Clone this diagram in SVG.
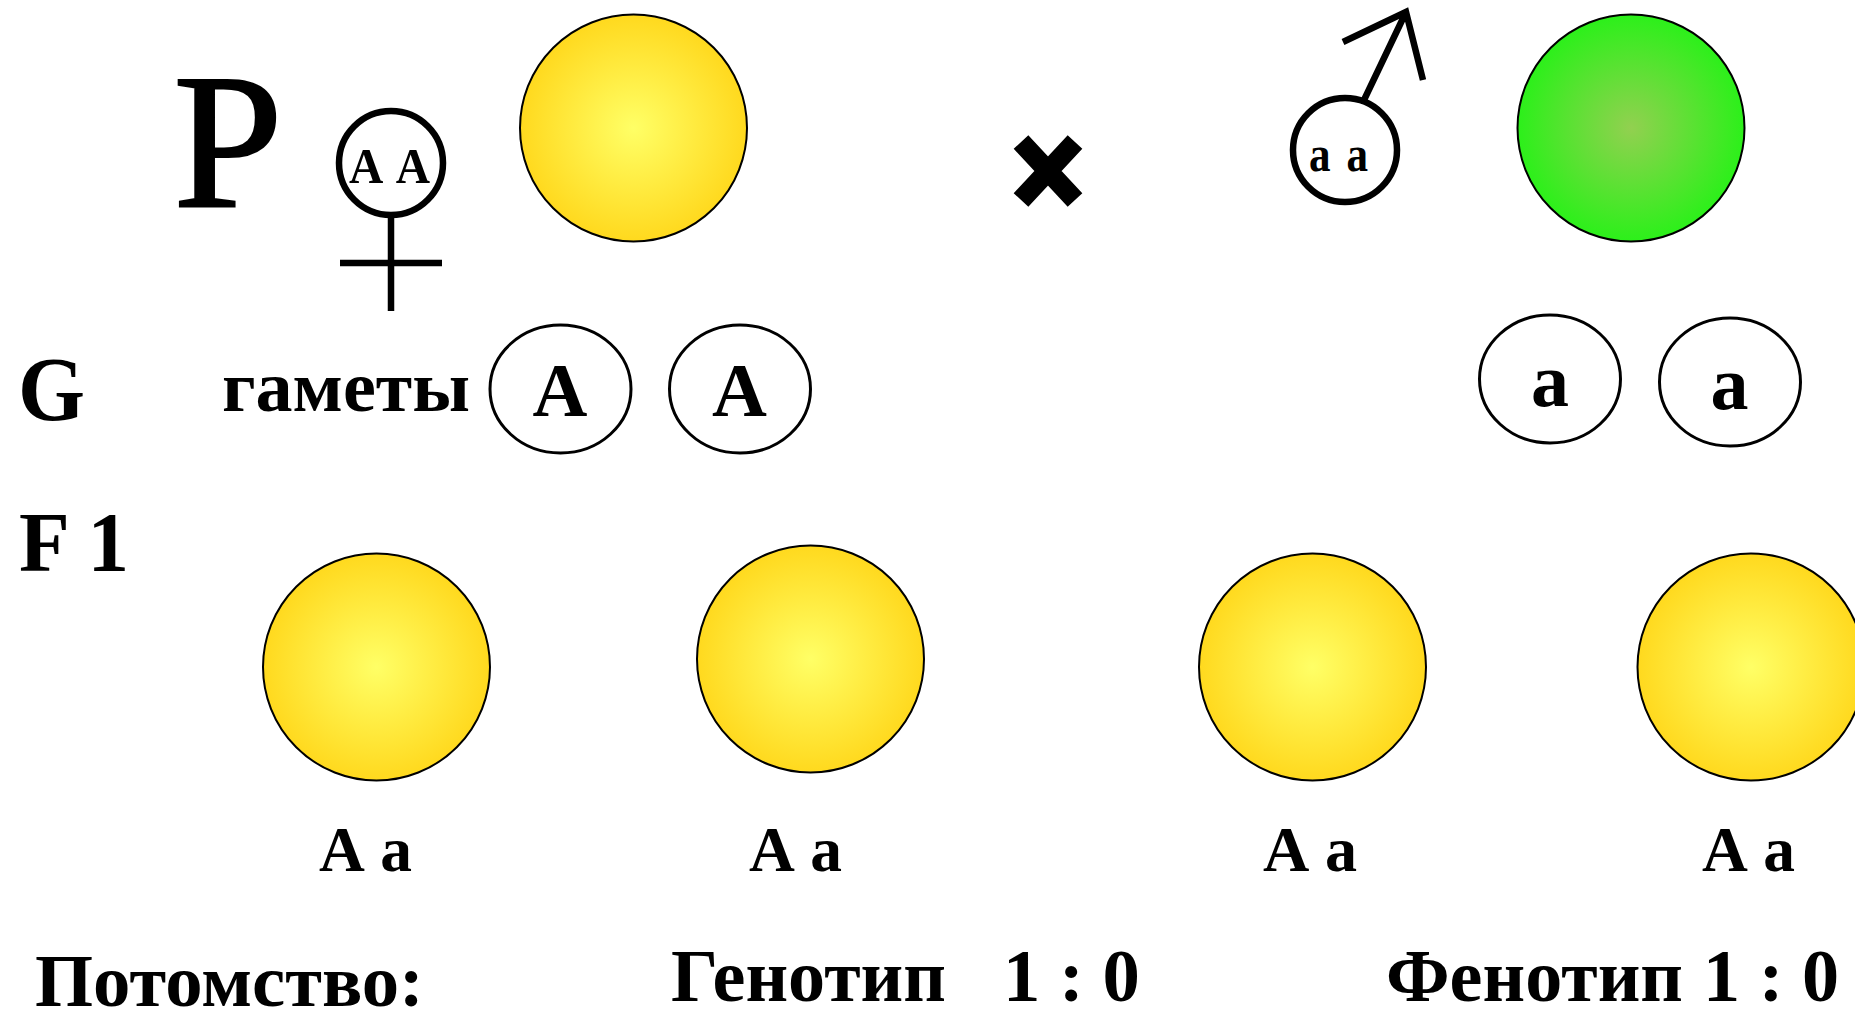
<svg xmlns="http://www.w3.org/2000/svg" width="1855" height="1010" viewBox="0 0 1855 1010">
<style>
text{font-family:"Liberation Serif","Times New Roman",serif;font-weight:700;fill:#000}
.pea{stroke:#000;stroke-width:2}
.y{fill:url(#yel)}
.gam{fill:#fff;stroke:#000;stroke-width:3}
.sign{fill:none;stroke:#000;stroke-width:6.500}
.g{font-size:76px;text-anchor:middle}
.s{font-size:50px;word-spacing:6px}
.l{font-size:64px;word-spacing:3px}
.b{font-size:75px}
</style>
<defs>
<radialGradient id="yel"><stop offset="0" stop-color="#ffff66"/><stop offset="1" stop-color="#ffd91e"/></radialGradient>
<radialGradient id="grn"><stop offset="0" stop-color="#92d050"/><stop offset="1" stop-color="#2cf01a"/></radialGradient>
</defs>
<rect width="1855" height="1010" fill="#fff"/>
<g id="label-P"><text x="173" y="207" font-size="192" style="font-weight:400;stroke:#000;stroke-width:2" textLength="110" lengthAdjust="spacingAndGlyphs">P</text></g>
<g id="female">
<ellipse class="sign" cx="391" cy="163" rx="52" ry="52"/>
<path class="sign" d="M391 215V311M340 263H442"/>
<text class="s" x="349" y="183" textLength="81" lengthAdjust="spacingAndGlyphs">A A</text>
</g>
<g id="parent-yellow"><ellipse class="pea y" cx="633.500" cy="128" rx="113.500" ry="113.500"/></g>
<g id="cross"><path d="M1021 142L1075 200M1075 142L1021 200" fill="none" stroke="#000" stroke-width="20"/></g>
<g id="male">
<ellipse class="sign" cx="1345" cy="150" rx="52" ry="52"/>
<path class="sign" d="M1364 100L1406 12M1343 42L1406 12L1423 80"/>
<text class="s" x="1309" y="171" textLength="59" lengthAdjust="spacingAndGlyphs">a a</text>
</g>
<g id="parent-green"><ellipse class="pea" fill="url(#grn)" cx="1631" cy="128" rx="113.500" ry="113.500"/></g>
<g id="label-G"><text x="18" y="420" font-size="90" textLength="67" lengthAdjust="spacingAndGlyphs">G</text></g>
<g id="label-gametes"><text x="222" y="411" font-size="72" textLength="248" lengthAdjust="spacingAndGlyphs">гаметы</text></g>
<g id="gamete-A1"><ellipse class="gam" cx="560.500" cy="389" rx="70.500" ry="64"/><text class="g" x="560" y="416">A</text></g>
<g id="gamete-A2"><ellipse class="gam" cx="740" cy="389" rx="70.500" ry="64"/><text class="g" x="739.500" y="416">A</text></g>
<g id="gamete-a1"><ellipse class="gam" cx="1550" cy="379" rx="70.500" ry="64"/><text class="g" x="1550" y="406">a</text></g>
<g id="gamete-a2"><ellipse class="gam" cx="1730" cy="382" rx="70.500" ry="64"/><text class="g" x="1729.500" y="409">a</text></g>
<g id="label-F1"><text x="19" y="571" font-size="85" textLength="110" lengthAdjust="spacingAndGlyphs">F 1</text></g>
<g id="f1-1"><ellipse class="pea y" cx="376.500" cy="667" rx="113.500" ry="113.500"/><text class="l" x="319" y="871" textLength="93" lengthAdjust="spacingAndGlyphs">A a</text></g>
<g id="f1-2"><ellipse class="pea y" cx="810.500" cy="659" rx="113.500" ry="113.500"/><text class="l" x="749" y="871" textLength="93" lengthAdjust="spacingAndGlyphs">A a</text></g>
<g id="f1-3"><ellipse class="pea y" cx="1312.500" cy="667" rx="113.500" ry="113.500"/><text class="l" x="1263" y="871" textLength="94" lengthAdjust="spacingAndGlyphs">A a</text></g>
<g id="f1-4"><ellipse class="pea y" cx="1751" cy="667" rx="113.500" ry="113.500"/><text class="l" x="1702" y="871" textLength="93" lengthAdjust="spacingAndGlyphs">A a</text></g>
<g id="summary">
<text class="b" x="35" y="1006" textLength="389" lengthAdjust="spacingAndGlyphs">Потомство:</text>
<text class="b" x="671" y="1001" textLength="275" lengthAdjust="spacingAndGlyphs">Генотип</text>
<text class="b" x="1003" y="1001" textLength="137" lengthAdjust="spacingAndGlyphs">1 : 0</text>
<text class="b" x="1386" y="1001" textLength="297" lengthAdjust="spacingAndGlyphs">Фенотип</text>
<text class="b" x="1703" y="1001" textLength="136" lengthAdjust="spacingAndGlyphs">1 : 0</text>
</g>
</svg>
